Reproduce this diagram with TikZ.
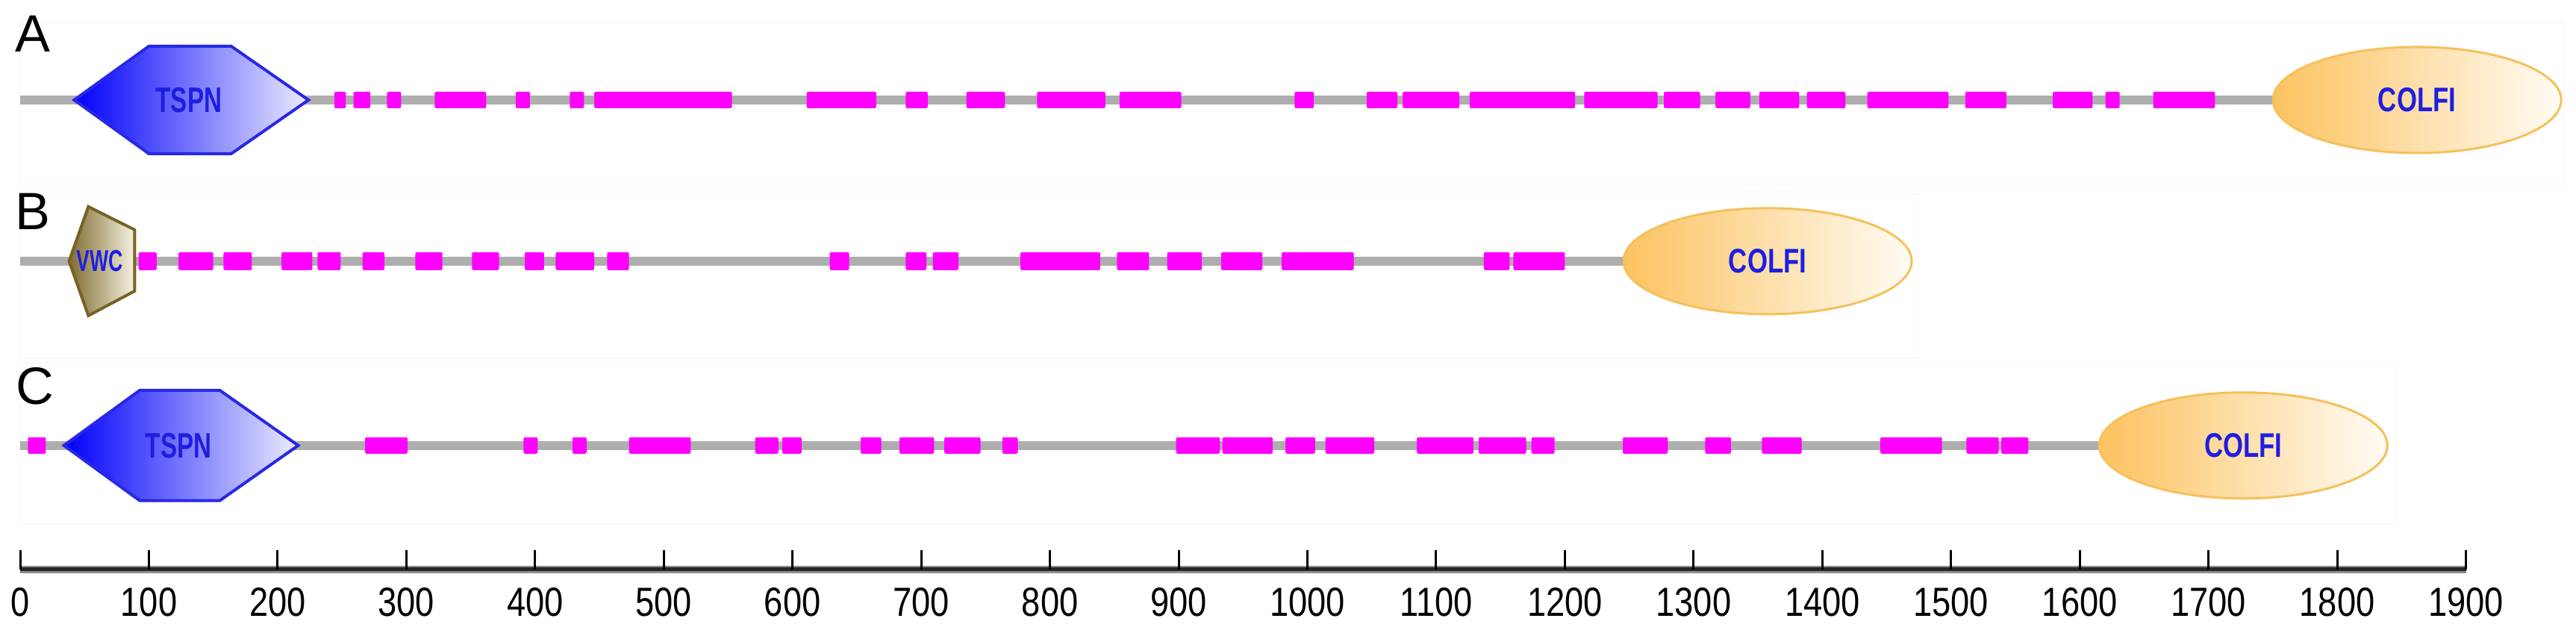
\documentclass[tikz,border=0pt]{standalone}
\usepackage{fontspec}
\setmainfont{Liberation Sans}
\usepackage{xcolor}
\usepackage{tikz}
\usetikzlibrary{shapes.geometric}

\definecolor{motifpink}{RGB}{255,0,255}
\definecolor{chaingray}{RGB}{174,174,174}
\definecolor{tspnblue}{RGB}{0,0,250}
\definecolor{tspnedge}{RGB}{40,40,230}
\definecolor{tspnpale}{RGB}{236,236,255}
\definecolor{vwcdark}{RGB}{128,108,48}
\definecolor{vwcedge}{RGB}{120,98,36}
\definecolor{vwcpale}{RGB}{246,242,226}
\definecolor{colfiorange}{RGB}{252,194,96}
\definecolor{colfipale}{RGB}{255,252,244}
\definecolor{colfiedge}{RGB}{246,192,90}
\definecolor{domainblue}{RGB}{30,30,225}

% squeeze text horizontally
\newcommand{\slim}[2][0.76]{\scalebox{#1}[1]{#2}}

\begin{document}
\begin{tikzpicture}[
  x=0.017245cm,
  y=0.01cm,
  panel/.style={
    draw=black!2.5,
    line width=0.02cm
  },
  chain/.style={
    draw=chaingray,
    line width=0.12cm
  },
  motif/.style={
    fill=motifpink,
    rounded corners=0.02cm
  },
  hexdomain/.style={
    draw=tspnedge,
    line width=0.04cm,
    left color=tspnblue,
    right color=tspnpale
  },
  vwcdomain/.style={
    draw=vwcedge,
    line width=0.04cm,
    left color=vwcdark,
    right color=vwcpale
  },
  colfi/.style={
    ellipse,
    draw=colfiedge,
    line width=0.03cm,
    left color=colfiorange,
    right color=colfipale,
    minimum width=3.86cm,
    minimum height=1.42cm,
    inner sep=0pt,
    text=domainblue,
    font=\bfseries\fontsize{13}{15}\selectfont
  },
  domtext/.style={
    inner sep=0pt,
    text=domainblue,
    font=\bfseries\fontsize{13.5}{16}\selectfont
  },
  rowlabel/.style={
    inner sep=0pt,
    font=\fontsize{20}{24}\selectfont
  },
  ticklabel/.style={
    inner sep=0pt,
    font=\fontsize{15.5}{18}\selectfont
  }
]

\useasboundingbox (-15.66,0) rectangle (1985.5,848);

% Faint row panels
\draw[panel] (0,818) rectangle (1975.6,601);
\draw[panel] (0,588) rectangle (1474.6,368);
\draw[panel] (0,362) rectangle (1845.8,146);

% Row A
\node[rowlabel] (labA) at (9.9,803) {A};
\coordinate (startA) at (0,714);
\node[colfi] (colfiA) at (1862,714) {\slim{COLFI}};
\draw[chain] (startA) -- (colfiA.west);
\foreach \a/\b in {244/253, 259/272, 285/296, 322/362, 385/396, 427/438,
  446/553, 611/665, 688/705, 735/765, 790/843, 854/902, 990/1005,
  1046/1070, 1074/1118, 1126/1208, 1215/1272, 1277/1305, 1317/1344,
  1351/1382, 1388/1418, 1435/1498, 1511/1543, 1579/1610, 1620/1631, 1657/1705}
  \fill[motif] (\a,703) rectangle (\b,725);
\filldraw[hexdomain] (42,714) -- (100,786) -- (164,786) -- (224,714)
  -- (164,642) -- (100,642) -- cycle;
\node[domtext] (tspnA) at (131,714) {\slim[0.7]{TSPN}};

% Row B
\node[rowlabel] (labB) at (9.9,565) {B};
\coordinate (startB) at (0,498);
\node[colfi] (colfiB) at (1357.5,498) {\slim{COLFI}};
\draw[chain] (startB) -- (colfiB.west);
\foreach \a/\b in {92/106, 123/150, 158/180, 203/227, 231/249, 266/283,
  307/328, 351/372, 392/407, 416/446, 456/473, 629/644, 688/704, 709/729,
  777/839, 852/877, 891/918, 933/965, 980/1036, 1137/1157, 1160/1200}
  \fill[motif] (\a,486) rectangle (\b,510);
\filldraw[vwcdomain] (53,571) -- (89,540) -- (89,458) -- (53,425)
  -- (38,498) -- cycle;
\node[domtext, font=\bfseries\fontsize{11.5}{13}\selectfont] (vwcB) at (62,498) {\slim[0.66]{VWC}};

% Row C
\node[rowlabel] (labC) at (11.6,330) {C};
\coordinate (startC) at (0,251);
\node[colfi] (colfiC) at (1727,251) {\slim{COLFI}};
\draw[chain] (startC) -- (colfiC.west);
\foreach \a/\b in {6/20, 268/301, 391/402, 429/440, 473/521, 571/589,
  592/607, 653/669, 683/710, 718/746, 763/775, 898/932, 934/973, 983/1006,
  1014/1052, 1085/1129, 1133/1170, 1174/1192, 1245/1280, 1309/1329,
  1353/1384, 1445/1493, 1512/1537, 1539/1560}
  \fill[motif] (\a,240) rectangle (\b,262);
\filldraw[hexdomain] (34,251) -- (93,325) -- (155,325) -- (216,251)
  -- (155,177) -- (93,177) -- cycle;
\node[domtext] (tspnC) at (123,251) {\slim[0.7]{TSPN}};

% Length scale
\coordinate (axstart) at (0,85);
\coordinate (axend) at (1900,85);
\draw[draw=black!45, line width=0.10cm] (axstart) -- (axend);
\draw[draw=black!85, line width=0.05cm] (axstart) -- (axend);
\foreach \t in {0,100,...,1900} {
  \draw[line width=0.03cm] (\t,85) -- (\t,111);
  \node[ticklabel] (tick\t) at (\t,40.5) {\slim[0.83]{\t}};
}

\end{tikzpicture}
\end{document}
